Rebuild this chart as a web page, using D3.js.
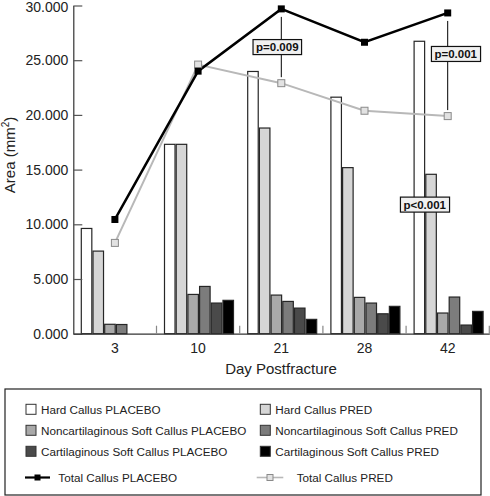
<!DOCTYPE html>
<html><head><meta charset="utf-8">
<script src="https://cdn.jsdelivr.net/npm/d3@7"></script>
<style>body{margin:0;background:#fff}svg{display:block;font-family:"Liberation Sans",Arial,sans-serif}</style>
</head><body><svg id="c" width="490" height="496"></svg>
<script>
const days = ["3","10","21","28","42"];
const seriesNames = ["Hard Callus PLACEBO","Hard Callus PRED","Noncartilaginous Soft Callus PLACEBO","Noncartilaginous Soft Callus PRED","Cartilaginous Soft Callus PLACEBO","Cartilaginous Soft Callus PRED"];
const hardPlacebo   = [9.62, 17.31, 23.97, 21.62, 26.73];
const hardPred      = [7.55, 17.31, 18.80, 15.18, 14.57];
const noncartPlacebo= [0.86, 3.59, 3.53, 3.32, 1.89];
const noncartPred   = [0.84, 4.32, 2.95, 2.80, 3.35];
const cartPlacebo   = [0.00, 2.80, 2.34, 1.82, 0.79];
const cartPred      = [0.00, 3.05, 1.31, 2.50, 2.04];
const totalPlacebo  = [10.44, 24.00, 29.69, 26.64, 29.32];
const totalPred     = [8.30, 24.60, 22.90, 20.38, 19.89];
const yTicks = [0,5,10,15,20,25,30];
const annotations = [
  {label:"p=0.009", day:"21", value:26.2, dx:-4, link:true},
  {label:"p=0.001", day:"42", value:25.57, dx:8, link:true},
  {label:"p<0.001", day:"42", value:11.8, dx:-23, link:false}
];
const barFills = ["#ffffff","#d6d6d6","#a9a9a9","#7c7c7c","#4a4a4a","#000000"];

const series = [hardPlacebo, hardPred, noncartPlacebo, noncartPred, cartPlacebo, cartPred];
const svg = d3.select("#c");
const L = 73.3, R = 489.3, T = 5.5, B = 333.7;
const x = d3.scaleBand().domain(days).range([L, R]).padding(0);
const xi = d3.scaleBand().domain(seriesNames).range([8, 77]).paddingInner(0.1);
const y = d3.scaleLinear().domain([0,30]).range([B, T]);
const fmt = d3.format(".3f");

// bars
const barData = [];
series.forEach((s,si)=>s.forEach((v,di)=>{ if(v>0) barData.push({si, day:days[di], v}); }));
svg.append("g").selectAll("rect").data(barData).join("rect")
  .attr("x", d=>x(d.day)+xi(seriesNames[d.si]))
  .attr("width", xi.bandwidth())
  .attr("y", d=>y(d.v))
  .attr("height", d=>B - y(d.v))
  .attr("fill", d=>barFills[d.si])
  .attr("stroke", "#262626").attr("stroke-width", 1.2);

// axes
const yAxis = d3.axisLeft(y).tickValues(yTicks).tickFormat(fmt).tickSizeInner(-9).tickSizeOuter(0).tickPadding(5);
const gy = svg.append("g").attr("transform",`translate(${L},0)`).call(yAxis);
gy.select(".domain").attr("stroke","#333").attr("stroke-width",1.2);
gy.selectAll(".tick line").attr("stroke","#555").attr("stroke-width",1.2);
gy.selectAll("text").attr("font-size",14).attr("fill","#222").attr("font-family","Liberation Sans, Arial, sans-serif")
  .attr("dy", d => d === 30 ? "0.45em" : "0.32em");

const xAxis = d3.axisBottom(x).tickSize(0).tickPadding(9);
const gx = svg.append("g").attr("transform",`translate(0,${B})`).call(xAxis);
gx.select(".domain").attr("stroke","#333").attr("stroke-width",1.2);
gx.selectAll("text").attr("font-size",14).attr("fill","#222").attr("font-family","Liberation Sans, Arial, sans-serif");
// group separator ticks
svg.append("g").selectAll("line").data(days).join("line")
  .attr("x1", d=>x(d)+x.bandwidth()).attr("x2", d=>x(d)+x.bandwidth())
  .attr("y1", B).attr("y2", B-8).attr("stroke","#888").attr("stroke-width",1.2);

// titles
svg.append("text").attr("x", 281).attr("y", 374).attr("text-anchor","middle")
  .attr("font-size",15).attr("fill","#222").text("Day Postfracture");
const yt = svg.append("text").attr("transform","translate(15,155) rotate(-90)").attr("text-anchor","middle")
  .attr("font-size",15).attr("fill","#222");
yt.append("tspan").text("Area (mm");
yt.append("tspan").attr("font-size",10).attr("dy",-6).text("2");
yt.append("tspan").attr("dy",6).text(")");

// lines
const cx = d => x(d) + x.bandwidth()/2;
const line = d3.line().x((d,i)=>cx(days[i])).y(d=>y(d));
svg.append("path").attr("d", line(totalPred)).attr("fill","none").attr("stroke","#b8b8b8").attr("stroke-width",2);
svg.append("path").attr("d", line(totalPlacebo)).attr("fill","none").attr("stroke","#000").attr("stroke-width",2.5);

// annotation connector lines
annotations.filter(a=>a.link).forEach(a=>{
  const i = days.indexOf(a.day);
  const xx = cx(a.day);
  const yb = y(a.value);
  svg.append("line").attr("x1",xx).attr("x2",xx).attr("y1",y(totalPlacebo[i])+8).attr("y2",yb-7).attr("stroke","#000").attr("stroke-width",1);
  svg.append("line").attr("x1",xx).attr("x2",xx).attr("y1",yb+7).attr("y2",y(totalPred[i])-6).attr("stroke","#000").attr("stroke-width",1);
});

// markers
svg.append("g").selectAll("rect").data(totalPred).join("rect")
  .attr("x",(d,i)=>cx(days[i])-3.5).attr("y",d=>y(d)-3.5).attr("width",7).attr("height",7)
  .attr("fill","#e2e2e2").attr("stroke","#8a8a8a").attr("stroke-width",1);
svg.append("g").selectAll("rect").data(totalPlacebo).join("rect")
  .attr("x",(d,i)=>cx(days[i])-3.5).attr("y",d=>y(d)-3.5).attr("width",7).attr("height",7)
  .attr("fill","#000");

// annotation boxes
annotations.forEach(a=>{
  const xx = cx(a.day) + a.dx, yy = y(a.value);
  const g = svg.append("g");
  const t = g.append("text").attr("x",xx).attr("y",yy+4).attr("text-anchor","middle")
    .attr("font-size",11.5).attr("font-weight","bold").attr("fill","#111").text(a.label);
  const bb = t.node().getBBox();
  g.insert("rect","text").attr("x",bb.x-3).attr("y",yy-7.5).attr("width",bb.width+6).attr("height",15)
    .attr("fill","#f0f0f0").attr("stroke","#111").attr("stroke-width",1.2);
});

// legend
svg.append("rect").attr("x",5).attr("y",389).attr("width",476).attr("height",106)
  .attr("fill","#fff").attr("stroke","#222").attr("stroke-width",1.2);
const legCols = [26, 260.3];
const legRows = [409.3, 430.3, 451.3];
seriesNames.forEach((n,i)=>{
  const lx = legCols[i%2], ly = legRows[Math.floor(i/2)];
  svg.append("rect").attr("x",lx).attr("y",ly-5).attr("width",10).attr("height",10)
    .attr("fill",barFills[i]).attr("stroke","#333").attr("stroke-width",1);
  svg.append("text").attr("x",lx+15).attr("y",ly+4.3).attr("font-size",11.7).attr("fill","#222").text(n);
});
const lineLeg = [
  {name:"Total Callus PLACEBO", x1:25, x2:50, stroke:"#000", sw:2.2, fill:"#000", mstroke:"none", tx:58.3},
  {name:"Total Callus PRED", x1:256.7, x2:283.3, stroke:"#b8b8b8", sw:1.6, fill:"#e2e2e2", mstroke:"#8a8a8a", tx:296.7}
];
lineLeg.forEach(l=>{
  const ly = 477.5;
  svg.append("line").attr("x1",l.x1).attr("x2",l.x2).attr("y1",ly).attr("y2",ly).attr("stroke",l.stroke).attr("stroke-width",l.sw);
  const mx = (l.x1+l.x2)/2;
  svg.append("rect").attr("x",mx-3).attr("y",ly-3).attr("width",6).attr("height",6).attr("fill",l.fill).attr("stroke",l.mstroke);
  svg.append("text").attr("x",l.tx).attr("y",ly+4.3).attr("font-size",11.7).attr("fill","#222").text(l.name);
});
</script></body></html>
